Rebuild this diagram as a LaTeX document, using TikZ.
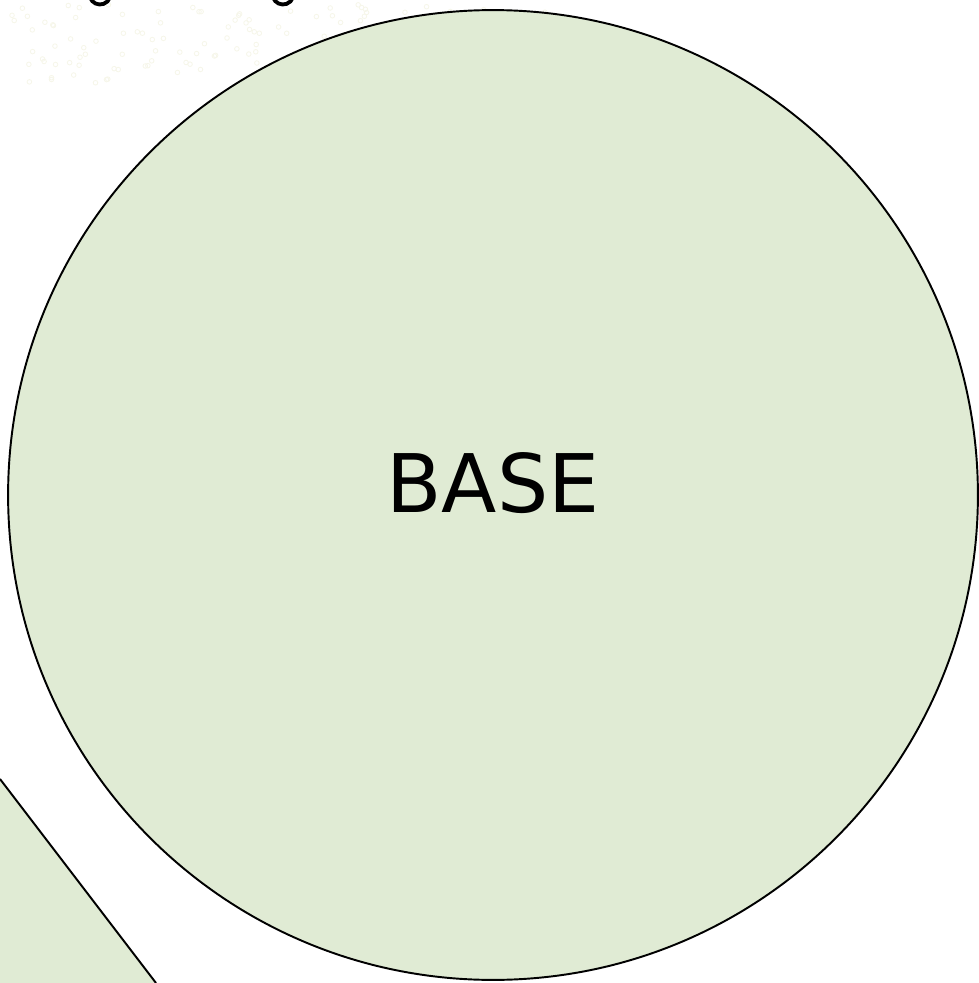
\documentclass[tikz,border=0pt]{standalone}
\usepackage{fontspec}
\setmainfont{DejaVu Sans}
\usetikzlibrary{calc}

\begin{document}
\begin{tikzpicture}[x=0.02cm, y=-0.02cm]
    % Define colours
    \definecolor{borderColour}{HTML}{000000}
    \definecolor{fillColour}{HTML}{E0EBD4}
    \definecolor{dotColour}{HTML}{F6F6EA}

    % Fix the picture size
    \useasboundingbox (0,0) rectangle (979,983);
    \clip (0,0) rectangle (979,983);

    % Faint dotted texture at the top left
    \pgfmathsetseed{7}
    \foreach \i in {1,...,130} {
        \pgfmathsetmacro{\dx}{12+540*rnd}
        \pgfmathsetmacro{\dy}{4+88*rnd*(1-0.6*\dx/552)}
        \draw[dotColour, line width=0.5pt] (\dx,\dy) circle (2.3);
    }

    % Bottoms of the glyphs cut off at the top edge
    \foreach \gx in {100,283}
        \draw[borderColour, line width=2.2pt] (\gx,-6) ++(160:10.5) arc[start angle=160, end angle=20, radius=10.5];

    % Neighbouring shape at the bottom left
    \coordinate (edgeTop) at (0,779);
    \coordinate (edgeBottom) at (156,983);
    \fill[fillColour] (-5,779) -- (edgeTop) -- (edgeBottom) -- (-5,983) -- cycle;
    \draw[draw=borderColour, line width=1.1pt] (edgeTop) -- (edgeBottom);

    % Draw the base circle
    \node[circle, draw=borderColour, fill=fillColour, line width=1.1pt,
          minimum size=19.4cm, inner sep=0pt] (base) at (493,495) {};
    \node[font=\fontsize{46}{50}\selectfont] (baseLabel) at ($(base.center)+(0,-12)$) {BASE};

\end{tikzpicture}
\end{document}
